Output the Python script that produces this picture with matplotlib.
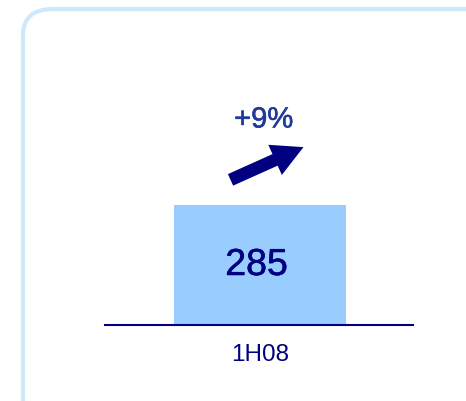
import matplotlib
matplotlib.use("Agg")
import matplotlib.pyplot as plt
import matplotlib.patheffects as pe
from matplotlib.patches import FancyBboxPatch, FancyArrowPatch

categories = ["1H08"]
values = [285]
growth_label = "+9%"

W, H = 466, 402
fig = plt.figure(figsize=(W/100, H/100), dpi=100)
plt.rcParams['font.family'] = ['Liberation Sans', 'DejaVu Sans']

# rounded border
border = FancyBboxPatch((23/W, -40/H), 500/W, (H-10+40)/H,
                        boxstyle="round,pad=0,rounding_size=0.065",
                        transform=fig.transFigure, facecolor='none',
                        edgecolor='#cde9fb', linewidth=3, zorder=-5)
fig.patches.append(border)

ax = fig.add_axes([105/W, (H-326)/H, 308/W, 225/H])
ax.set_facecolor('none')
ax.set_zorder(2)
bw = 0.6
ax.bar(range(len(categories)), values, width=bw, color='#99ccff', zorder=2)
ax.set_xlim(-155/(172/bw), 153/(172/bw))
ax.set_ylim(0, values[0]*225/120)
for s in ['top', 'right', 'left']:
    ax.spines[s].set_visible(False)
ax.spines['bottom'].set_color('#000080')
ax.spines['bottom'].set_linewidth(1.5)
ax.spines['bottom'].set_zorder(3)
ax.set_yticks([])
ax.set_xticks(range(len(categories)))
ax.set_xticklabels(categories, fontsize=17.5, color='#000080')
ax.tick_params(axis='x', length=0, pad=13)
for i, v in enumerate(values):
    ax.text(i - 0.012, v/2, f"{v}", ha='center', va='center', fontsize=27,
            color='#000080',
            path_effects=[pe.withStroke(linewidth=0.4, foreground='#000080')])

# growth arrow
fig.add_artist(FancyArrowPatch(
    (228/W, (H-182)/H), (306/W, (H-147)/H), transform=fig.transFigure,
    arrowstyle='simple,head_width=1.7,head_length=1.6,tail_width=0.65',
    mutation_scale=14, color='#000080', linewidth=0))
fig.text(263.5/W, (H-120.5)/H, growth_label, ha='center', va='center',
         fontsize=21, color='#1f3a9c',
         path_effects=[pe.withStroke(linewidth=0.4, foreground='#1f3a9c')])

fig.savefig("out.png", dpi=100)
